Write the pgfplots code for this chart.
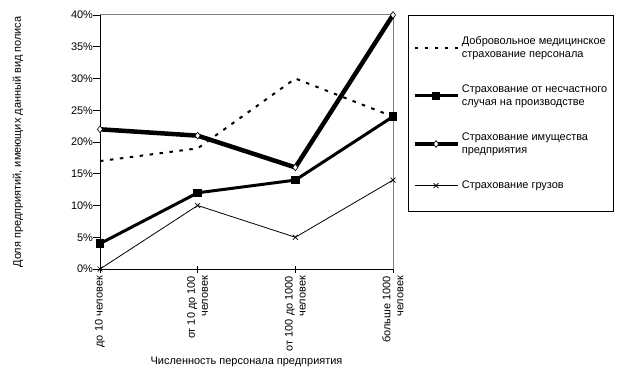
\documentclass[border=0pt]{standalone}
\usepackage{pgfplots}
\pgfplotsset{compat=1.18}
\usepackage{fontspec}
\setmainfont{Liberation Sans}
\begin{document}
\begin{tikzpicture}[x=1bp,y=1bp,font=\fontsize{11}{13}\selectfont]
\useasboundingbox (0,0) rectangle (624,383);
\begin{axis}[
  at={(100bp,114bp)}, anchor=south west,
  scale only axis, width=293bp, height=254bp,
  xmin=0, xmax=3, ymin=0, ymax=40,
  clip=false,
  axis x line*=bottom, axis y line*=left,
  axis line style={black, line width=1bp, -},
  tick align=center, major tick length=7bp,
  tick style={black, line width=0.8bp},
  y tick style={xshift=-3.5bp},
  xtick={0,1,2,3},
  xticklabels={{до 10 человек},{от 10 до 100\\человек},{от 100 до 1000\\человек},{больше 1000\\человек}},
  xticklabel style={rotate=90, anchor=east, align=right, font=\fontsize{11}{13}\selectfont},
  ytick={0,5,...,40},
  yticklabels={0\%,5\%,10\%,15\%,20\%,25\%,30\%,35\%,40\%},
  yticklabel style={font=\fontsize{11}{13}\selectfont},
  xlabel={Численность персонала предприятия},
  xlabel style={at={(axis description cs:0.5,-0.366)}, anchor=center},
  ylabel={Доля предприятий, имеющих данный вид полиса},
  ylabel style={at={(axis description cs:-0.28,0.5)}, anchor=center},
  legend image code/.code={\draw[mark repeat=2,mark phase=2] plot coordinates {(0bp,0bp)(21.5bp,0bp)(43bp,0bp)};},
  legend style={at={(1.051,1)}, anchor=north west, draw=black, line width=0.8bp, fill=white,
    inner xsep=4bp, inner ysep=19bp, row sep=22bp,
    cells={anchor=west, align=left}, font=\fontsize{11}{13}\selectfont},
  legend cell align=left,
]
\draw[gray, line width=1bp] (rel axis cs:0,1) -- (rel axis cs:1,1) -- (rel axis cs:1,0);
\addplot[black, line width=2bp, dash pattern=on 3.5bp off 6.5bp] coordinates {(0,17)(1,19)(2,30)(3,24)};
\addlegendentry{Добровольное медицинское\\страхование персонала}
\addplot[black, line width=3bp, mark=square*, mark size=2.8bp, mark options={solid}] coordinates {(0,4)(1,12)(2,14)(3,24)};
\addlegendentry{Страхование от несчастного\\случая на производстве}
\addplot[black, line width=4.5bp, mark=diamond*, mark size=3.4bp, mark options={solid, fill=white, draw=black, line width=0.6bp}] coordinates {(0,22)(1,21)(2,16)(3,40)};
\addlegendentry{Страхование имущества\\предприятия}
\addplot[black, line width=0.8bp, mark=x, mark size=3.5bp, mark options={solid, line width=0.7bp}] coordinates {(0,0)(1,10)(2,5)(3,14)};
\addlegendentry{Страхование грузов}
\end{axis}
\end{tikzpicture}
\end{document}
